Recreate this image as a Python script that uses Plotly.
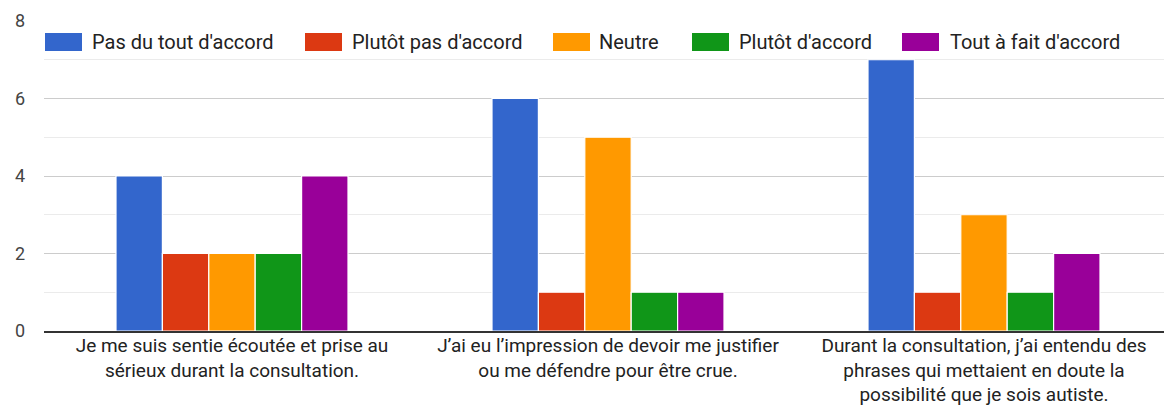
import plotly.graph_objects as go

categories = [
    "Je me suis sentie écoutée et prise au<br>sérieux durant la consultation.",
    "J’ai eu l’impression de devoir me justifier<br>ou me défendre pour être crue.",
    "Durant la consultation, j’ai entendu des<br>phrases qui mettaient en doute la<br>possibilité que je sois autiste.",
]
series_names = ["Pas du tout d'accord", "Plutôt pas d'accord", "Neutre",
                "Plutôt d'accord", "Tout à fait d'accord"]
series_values = [
    [4, 6, 7],
    [2, 1, 1],
    [2, 5, 3],
    [2, 1, 1],
    [4, 1, 2],
]
colors = ["#3366CC", "#DC3912", "#FF9900", "#109618", "#990099"]
y_ticks = [0, 2, 4, 6, 8]

# page body has an 8px margin; compensate so the figure fills the window
OFF = 8
W, H = 1172 - OFF, 408 - OFF
ml, mr, mt, mb = 44 - OFF, 0, 21 - OFF, 77
pw, ph = W - ml - mr, H - mt - mb

fig = go.Figure()
for name, vals, c in zip(series_names, series_values, colors):
    fig.add_trace(go.Bar(x=categories, y=vals, name=name,
                         marker=dict(color=c, line=dict(color="white", width=1.2)),
                         showlegend=False))

# custom legend (wide swatches like the reference), pixel positions in window coords
sw_x = [45, 305, 553, 692, 902]
txt_x = [90, 350, 597, 737, 948]
def px2x(p):
    return (p - OFF - ml) / pw
def py2y(p):
    return (H + OFF - mb - p) / ph
for name, c, sx, tx in zip(series_names, colors, sw_x, txt_x):
    fig.add_shape(type="rect", xref="paper", yref="paper",
                  x0=px2x(sx), x1=px2x(sx + 37), y0=py2y(51), y1=py2y(33),
                  fillcolor=c, line=dict(width=0), layer="above")
    fig.add_annotation(xref="paper", yref="paper", x=px2x(tx), y=py2y(42),
                       text=name, showarrow=False, xanchor="left", yanchor="middle",
                       font=dict(size=20, color="#222222", family="Roboto, Arial, sans-serif"))

fig.update_layout(
    width=W, height=H,
    margin=dict(l=ml, r=mr, t=mt, b=mb, pad=0),
    paper_bgcolor="white", plot_bgcolor="white",
    barmode="group", bargap=0.383, bargroupgap=0.0,
    font=dict(family="Roboto, Arial, sans-serif", size=19.5, color="#222222"),
    showlegend=False,
)
fig.update_yaxes(range=[0, 8], tickvals=y_ticks, showgrid=True, gridcolor="#cccccc",
                 gridwidth=1, zeroline=False, ticks="", ticklabelstandoff=18,
                 tickfont=dict(size=18, color="#444444"), automargin=False,
                 minor=dict(dtick=1, showgrid=True, gridcolor="#ebebeb", gridwidth=1))
fig.update_xaxes(showline=True, linecolor="#333333", linewidth=2, ticks="",
                 tickfont=dict(size=19, color="#222222"), fixedrange=True,
                 automargin=False, ticklabelstandoff=-4)

fig.write_html("out.html")
